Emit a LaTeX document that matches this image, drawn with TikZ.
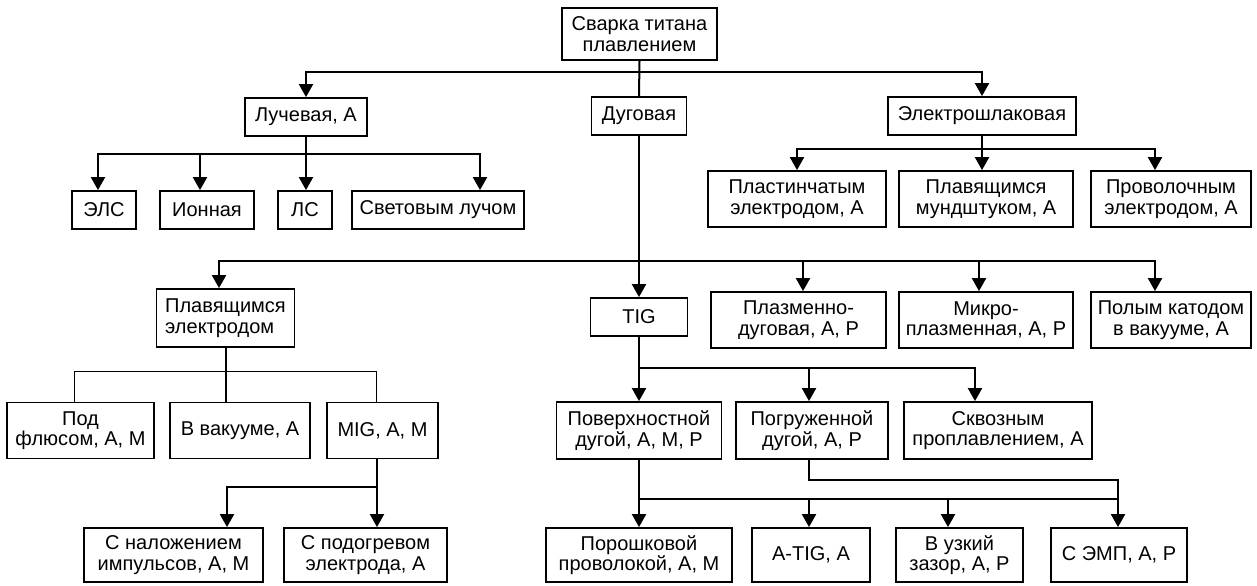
\documentclass[tikz,border=0pt]{standalone}
\usepackage{fontspec}
\setmainfont{Liberation Sans}
\usepackage{tikz}
\usetikzlibrary{arrows.meta}

\begin{document}
\begin{tikzpicture}[x=0.5pt,y=-0.5pt]
	\useasboundingbox (0,0) rectangle (1257,585);
	\begin{scope}[every node/.style={draw=black,line width=0.9pt,inner sep=0pt,align=center,font=\fontsize{10}{10.2}\selectfont}]
	\node[minimum width=77.5pt,minimum height=26pt] (root) at (639.5,34) {Сварка титана\\плавлением};
	\node[minimum width=61pt,minimum height=19pt] (luch) at (306,117) {Лучевая, А};
	\node[minimum width=47.5pt,minimum height=19pt] (dug) at (639,116) {Дуговая};
	\node[minimum width=94pt,minimum height=19pt] (elsh) at (982,116) {Электрошлаковая};

	\node[minimum width=32pt,minimum height=19pt] (els) at (104,210) {ЭЛС};
	\node[minimum width=47pt,minimum height=19pt] (ion) at (207,210) {Ионная};
	\node[minimum width=27pt,minimum height=19pt] (ls) at (305,210) {ЛС};
	\node[minimum width=86pt,minimum height=19pt] (svet) at (438,210) {Световым лучом};

	\node[minimum width=89pt,minimum height=28pt] (plast) at (797,199) {Пластинчатым\\электродом, А};
	\node[minimum width=87pt,minimum height=28pt] (mund) at (986,199) {Плавящимся\\мундштуком, А};
	\node[minimum width=80pt,minimum height=28pt] (prov) at (1171,199) {Проволочным\\электродом, А};

	\node[minimum width=69pt,minimum height=29pt,align=left] (plel) at (225.5,318) {Плавящимся\\электродом};
	\node[minimum width=48.5pt,minimum height=19pt] (tig) at (639,317) {TIG};
	\node[minimum width=87.5pt,minimum height=28pt] (plazm) at (798.5,320) {Плазменно-\\дуговая, А, Р};
	\node[minimum width=87pt,minimum height=28pt] (mikro) at (986,320) {Микро-\\плазменная, А, Р};
	\node[minimum width=80pt,minimum height=28pt] (polym) at (1171,320) {Полым катодом\\в вакууме, А};

	\node[minimum width=73.5pt,minimum height=28pt] (flux) at (80.5,430.5) {Под\\флюсом, А, М};
	\node[minimum width=70pt,minimum height=28pt] (vak) at (240,430.5) {В вакууме, А};
	\node[minimum width=55.5pt,minimum height=28pt] (mig) at (382.5,430.5) {MIG, А, М};
	\node[minimum width=82.5pt,minimum height=28.5pt] (pov) at (639,430.5) {Поверхностной\\дугой, А, М, Р};
	\node[minimum width=76pt,minimum height=28.5pt] (pogr) at (812,430.5) {Погруженной\\дугой, А, Р};
	\node[minimum width=94pt,minimum height=28.5pt] (skv) at (998,430.5) {Сквозным\\проплавлением, А};

	\node[minimum width=89.5pt,minimum height=27pt] (impl) at (173.5,555) {С наложением\\импульсов, А, М};
	\node[minimum width=81.5pt,minimum height=27pt] (podogr) at (365.5,555) {С подогревом\\электрода, А};
	\node[minimum width=93pt,minimum height=27pt] (por) at (639,555) {Порошковой\\проволокой, А, М};
	\node[minimum width=59pt,minimum height=27pt] (atig) at (811,555) {A-TIG, А};
	\node[minimum width=63.5pt,minimum height=27pt] (uzk) at (959.5,555) {В узкий\\зазор, А, Р};
	\node[minimum width=68pt,minimum height=27pt] (emp) at (1119,555) {С ЭМП, А, Р};
	\end{scope}

	\begin{scope}[>={Triangle[black,width=7pt,length=6.5pt]},
	line width=1pt, line cap=rect]
	\coordinate (tl) at (306,72);
	\coordinate (tr) at (982,72);
	\coordinate (l1) at (98,154);
	\coordinate (l2) at (200,154);
	\coordinate (l4) at (480,154);
	\coordinate (e1) at (797,149);
	\coordinate (e3) at (1155,149);
	\coordinate (d1) at (219,261);
	\coordinate (d2) at (803,261);
	\coordinate (d3) at (979,261);
	\coordinate (d4) at (1155,261);
	\coordinate (p1) at (74,371);
	\coordinate (p2) at (376,371);
	\coordinate (m1) at (227,487);
	\coordinate (m2) at (377,487);
	\coordinate (t1) at (639,368);
	\coordinate (t2) at (809,368);
	\coordinate (t3) at (975,368);
	\coordinate (v1) at (639,499);
	\coordinate (v2) at (809,499);
	\coordinate (v3) at (948,499);
	\coordinate (v4) at (1118,499);
	\coordinate (w1) at (809,480);
	\coordinate (w2) at (1118,480);

	\draw (root.south) -- (dug.north);
	\draw [->] (tr) -- (tl) -- (luch.north);
	\draw [->] (tr) -- (elsh.north);

	\draw [->] (luch.south) -- (luch.south |- ls.north);
	\draw [->] (l4) -- (l1) -- (l1 |- els.north);
	\draw [->] (l2) -- (l2 |- ion.north);
	\draw [->] (l1) -- (l4) -- (l4 |- svet.north);

	\draw [->] (elsh.south) -- (elsh.south |- mund.north);
	\draw [->] (e3) -- (e1) -- (e1 |- plast.north);
	\draw [->] (e1) -- (e3) -- (e3 |- prov.north);

	\draw [->] (dug.south) -- (tig.north);
	\draw [->] (d4) -- (d1) -- (d1 |- plel.north);
	\draw [->] (d2) -- (d2 |- plazm.north);
	\draw [->] (d3) -- (d3 |- mikro.north);
	\draw [->] (d1) -- (d4) -- (d4 |- polym.north);

	\draw (plel.south) -- (plel.south |- vak.north);
	\draw [line width=0.5pt] (p1 |- flux.north) -- (p1) -- (p2) -- (p2 |- mig.north);

	\draw [->] (m2 |- mig.south) -- (m2 |- podogr.north);
	\draw [->] (m2) -- (m1) -- (m1 |- impl.north);

	\draw [->] (tig.south) -- (pov.north);
	\draw [->] (t1) -- (t3) -- (t3 |- skv.north);
	\draw [->] (t2) -- (t2 |- pogr.north);

	\draw [->] (pov.south) -- (por.north);
	\draw [->] (v1) -- (v4) -- (v4 |- emp.north);
	\draw [->] (v2) -- (v2 |- atig.north);
	\draw [->] (v3) -- (v3 |- uzk.north);
	\draw (w1 |- pogr.south) -- (w1) -- (w2) -- (v4);
	\end{scope}
\end{tikzpicture}
\end{document}
